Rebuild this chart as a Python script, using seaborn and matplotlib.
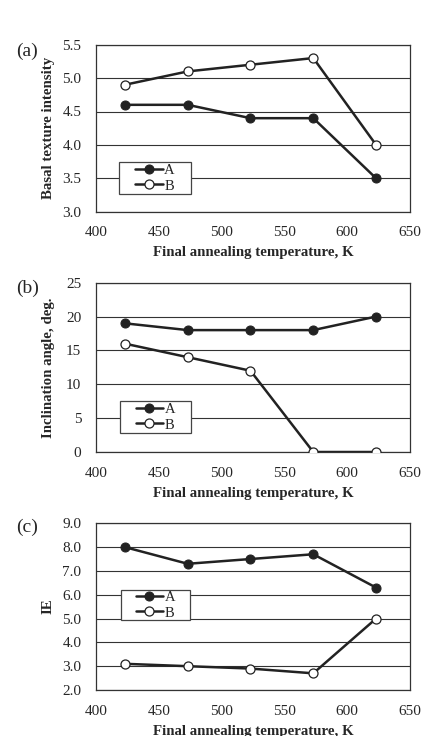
import matplotlib
matplotlib.use("Agg")
import matplotlib.pyplot as plt
from matplotlib.patches import Rectangle
import seaborn as sns
import pandas as pd

temps = [423, 473, 523, 573, 623]
basal_A = [4.6, 4.6, 4.4, 4.4, 3.5]
basal_B = [4.9, 5.1, 5.2, 5.3, 4.0]
incl_A = [19, 18, 18, 18, 20]
incl_B = [16, 14, 12, 0, 0]
ie_A = [8.0, 7.3, 7.5, 7.7, 6.3]
ie_B = [3.1, 3.0, 2.9, 2.7, 5.0]

sns.set_theme(style="white")
plt.rcParams['font.family'] = ['Liberation Serif', 'DejaVu Serif']

W, H = 426, 736
fig = plt.figure(figsize=(W / 100, H / 100), dpi=100)

def px_axes(left, top, right, bottom):
    return fig.add_axes([left / W, 1 - bottom / H, (right - left) / W, (bottom - top) / H])

panels = [
    dict(box=(96, 44.7, 410, 211.7), A=basal_A, B=basal_B, ylim=(3.0, 5.5), step=0.5, fmt="{:.1f}",
         ylabel="Basal texture intensity", tag="(a)", tagy=51, leg=(119, 162, 191, 194)),
    dict(box=(96, 282.7, 410, 452), A=incl_A, B=incl_B, ylim=(0, 25), step=5, fmt="{:.0f}",
         ylabel="Inclination angle, deg.", tag="(b)", tagy=288.5, leg=(120, 401, 191, 433)),
    dict(box=(96, 523.3, 410, 690), A=ie_A, B=ie_B, ylim=(2.0, 9.0), step=1.0, fmt="{:.1f}",
         ylabel="IE", tag="(c)", tagy=527.5, leg=(121, 590, 190, 620)),
]

lc = "#222222"
ms = 6.5
for p in panels:
    ax = px_axes(*p["box"])
    df = pd.DataFrame({"T": temps * 2, "v": p["A"] + p["B"], "s": ["A"] * 5 + ["B"] * 5})
    sns.lineplot(data=df[df.s == "A"], x="T", y="v", ax=ax, color=lc, lw=1.8, marker="o",
                 markersize=ms, markerfacecolor=lc, markeredgecolor=lc, label="A", zorder=3)
    sns.lineplot(data=df[df.s == "B"], x="T", y="v", ax=ax, color=lc, lw=1.8, marker="o",
                 markersize=ms, markerfacecolor="white", markeredgecolor=lc, markeredgewidth=0.9,
                 label="B", zorder=3)
    lo, hi = p["ylim"]
    ax.set_xlim(400, 650)
    ax.set_ylim(lo, hi)
    yt = []
    v = lo
    while v <= hi + 1e-9:
        yt.append(round(v, 3))
        v += p["step"]
    ax.set_yticks(yt)
    ax.set_yticklabels([p["fmt"].format(t) for t in yt], fontsize=11)
    ax.set_xticks([400, 450, 500, 550, 600, 650])
    ax.set_xticklabels(["400", "450", "500", "550", "600", "650"], fontsize=11)
    ax.grid(axis="y", color="#333333", lw=0.8)
    ax.grid(axis="x", visible=False)
    for s in ax.spines.values():
        s.set_color("#333333")
        s.set_linewidth(0.9)
    ax.tick_params(axis="x", length=3, direction="in", color="#444444", pad=10.5)
    ax.tick_params(axis="y", length=0, pad=10.5)
    ax.set_xlabel("Final annealing temperature, K", fontsize=10.7, fontweight="bold", labelpad=5)
    ax.set_ylabel(p["ylabel"], fontsize=10.7, fontweight="bold")
    ax.yaxis.set_label_coords(-(96 - 55) / (p["box"][2] - p["box"][0]), 0.5)
    l, t, r, b = p["leg"]
    bx0, by0, bx1, by1 = p["box"]
    aw, ah = bx1 - bx0, by1 - by0
    ax.add_patch(Rectangle(((l - bx0) / aw, (by1 - b) / ah), (r - l) / aw, (b - t) / ah,
                           transform=ax.transAxes, facecolor="white", edgecolor="#444444",
                           lw=0.9, zorder=4))
    leg = ax.legend(loc="center",
                    bbox_to_anchor=(((l + r) / 2 - bx0) / aw, (by1 - (t + b) / 2) / ah),
                    frameon=False, fontsize=10.5, handlelength=1.9,
                    handletextpad=0.1, borderpad=0, labelspacing=0.18, borderaxespad=0)
    leg.set_zorder(5)
    fig.text(16 / W, 1 - p["tagy"] / H, p["tag"], fontsize=14, va="center", ha="left")

fig.savefig("out.png", dpi=100)
